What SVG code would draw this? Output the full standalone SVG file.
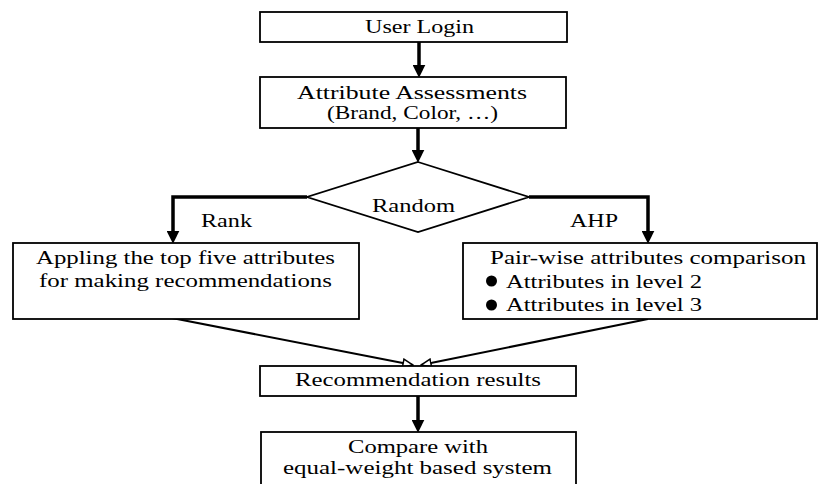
<svg xmlns="http://www.w3.org/2000/svg" width="818" height="484" viewBox="0 0 818 484">
<defs>
<style>
.box{fill:#fff;stroke:#000;stroke-width:1.8}
.t{font-family:'Liberation Serif','Times New Roman',Tinos,'Noto Serif','DejaVu Serif',FreeSerif,'Nimbus Roman',Times,serif;font-size:19px;fill:#000}
.thick{fill:none;stroke:#000;stroke-width:3.5}
.thin{fill:none;stroke:#000;stroke-width:2}
</style>
<marker id="ah" viewBox="0 0 12 12" markerUnits="userSpaceOnUse" markerWidth="13" markerHeight="13" refX="4" refY="6" orient="auto">
<path d="M0,0 L12,6 L0,12 z" fill="#000"/>
</marker>
<marker id="oh" viewBox="0 0 12 10" markerUnits="userSpaceOnUse" markerWidth="12" markerHeight="10" refX="11" refY="5" orient="auto">
<path d="M1,1 L11,5 L1,9 z" fill="#fff" stroke="#000" stroke-width="1.5"/>
</marker>
</defs>
<rect width="818" height="484" fill="#fff"/>
<g id="connectors">
<line class="thick" x1="419" y1="42" x2="419" y2="69" marker-end="url(#ah)"/>
<line class="thick" x1="418" y1="128" x2="418" y2="154" marker-end="url(#ah)"/>
<polyline class="thick" points="307,197 173,197 173,235" marker-end="url(#ah)"/>
<polyline class="thick" points="529,197 648,197 648,235" marker-end="url(#ah)"/>
<line class="thin" x1="172" y1="318" x2="413" y2="365" marker-end="url(#oh)"/>
<line class="thin" x1="648" y1="319" x2="421" y2="365" marker-end="url(#oh)"/>
<line class="thick" x1="418" y1="396" x2="418" y2="424" marker-end="url(#ah)"/>
<text class="t" x="201" y="227" textLength="51" lengthAdjust="spacingAndGlyphs">Rank</text>
<text class="t" x="570" y="227" textLength="48" lengthAdjust="spacingAndGlyphs">AHP</text>
</g>
<g id="user-login">
<rect class="box" x="260" y="12" width="307" height="30"/>
<text class="t" x="365" y="33" textLength="109" lengthAdjust="spacingAndGlyphs">User Login</text>
</g>
<g id="attribute-assessments">
<rect class="box" x="260" y="77" width="306" height="51"/>
<text class="t" x="297" y="99" textLength="230" lengthAdjust="spacingAndGlyphs" style="font-size:18px">Attribute Assessments</text>
<text class="t" x="327" y="119" textLength="171" lengthAdjust="spacingAndGlyphs" style="font-size:18px">(Brand, Color, …)</text>
</g>
<g id="random">
<polygon class="box" points="418,162 529,197 418,232 307,197"/>
<text class="t" x="372" y="212" textLength="83" lengthAdjust="spacingAndGlyphs">Random</text>
</g>
<g id="rank-box">
<rect class="box" x="13" y="243" width="346" height="76"/>
<text class="t" x="36" y="264" textLength="299" lengthAdjust="spacingAndGlyphs">Appling the top five attributes</text>
<text class="t" x="39" y="287" textLength="293" lengthAdjust="spacingAndGlyphs">for making recommendations</text>
</g>
<g id="ahp-box">
<rect class="box" x="463" y="243" width="354" height="76"/>
<text class="t" x="490" y="264" textLength="316" lengthAdjust="spacingAndGlyphs">Pair-wise attributes comparison</text>
<circle cx="491.5" cy="281" r="5.5" fill="#000"/>
<text class="t" x="506" y="288" textLength="196" lengthAdjust="spacingAndGlyphs">Attributes in level 2</text>
<circle cx="491.5" cy="305" r="5.5" fill="#000"/>
<text class="t" x="506" y="311" textLength="196" lengthAdjust="spacingAndGlyphs">Attributes in level 3</text>
</g>
<g id="recommendation-results">
<rect class="box" x="260" y="366" width="316" height="30"/>
<text class="t" x="295" y="386" textLength="246" lengthAdjust="spacingAndGlyphs">Recommendation results</text>
</g>
<g id="compare">
<rect class="box" x="261" y="432" width="315" height="60"/>
<text class="t" x="348" y="453" textLength="140" lengthAdjust="spacingAndGlyphs">Compare with</text>
<text class="t" x="283" y="474" textLength="269" lengthAdjust="spacingAndGlyphs">equal-weight based system</text>
</g>
</svg>
